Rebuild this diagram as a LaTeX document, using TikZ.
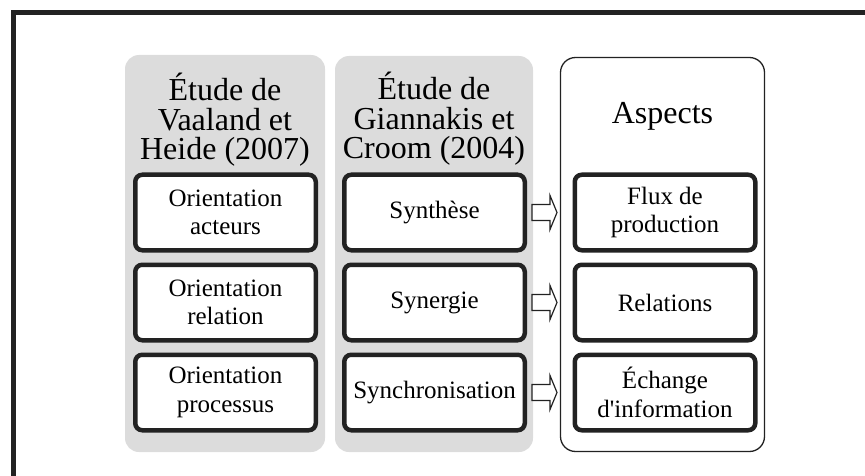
\documentclass[tikz,border=0pt]{standalone}
\usepackage{fontspec}
\setmainfont{Liberation Serif}[Ligatures=TeXOff]
\usetikzlibrary{calc}
\definecolor{panelgray}{RGB}{220,220,220}
\definecolor{ink}{RGB}{34,34,34}
\begin{document}
\begin{tikzpicture}[x=1pt,y=-1pt,
  panel/.style={fill=panelgray, draw=none, rounded corners=14pt, inner sep=0pt},
  item/.style={draw=ink, line width=4.5pt, fill=white, rounded corners=7pt,
    minimum width=180.5pt, minimum height=75.5pt, inner sep=0pt, align=center,
    font=\fontsize{25}{28.5}\selectfont},
  head/.style={align=center, inner sep=0pt, font=\fontsize{32}{29.5}\selectfont},
  flow/.style={draw=ink, line width=1.2pt, fill=white, line join=miter}
]
\useasboundingbox (0,0) rectangle (865,476);

% page frame (open towards the right and the bottom)
\draw[line width=5pt, draw=ink] (13,490) -- (13,13) -- (880,13);

% column backgrounds
\node[panel, minimum width=200pt, minimum height=397pt] (p1) at (225,253.5) {};
\node[panel, minimum width=198pt, minimum height=396pt] (p2) at (434,254) {};
\node[draw=ink, line width=1.3pt, fill=white, rounded corners=15pt,
      minimum width=204pt, minimum height=394pt, inner sep=0pt] (p3) at (662.5,254.5) {};

% column headings
\node[head] (h1) at (225,120) {Étude de\\Vaaland et\\Heide (2007)};
\node[head] (h2) at (434,119) {Étude de\\Giannakis et\\Croom (2004)};
\node[head, anchor=base] (h3) at (662.5,124) {Aspects};

% first column
\node[item] (a1) at (225.5,212.5) {Orientation\\acteurs};
\node[item] (a2) at (225.5,302.5) {Orientation\\relation};
\node[item] (a3) at (225.5,392.5) {Orientation\\processus};

% second column
\node[item] (b1) at (434.5,212.5) {Synthèse};
\node[item] (b2) at (434.5,302.5) {Synergie};
\node[item] (b3) at (434.5,392.5) {Synchronisation};

% third column
\node[item] (c1) at (665,212.5) {Flux de\\production};
\node[item] (c2) at (665,302.5) {Relations};
\node[item] (c3) at (665,392.5) {Échange\\d'information};

% block arrows from the second column towards the aspects
\foreach \s in {b1,b2,b3}{
  \draw[flow] ($(\s.east)+(5,-8)$) -- ++(18,0) -- ++(0,-9)
    -- ($(\s.east)+(30,0)$) -- ($(\s.east)+(23,17)$) -- ++(0,-9)
    -- ++(-18,0) -- cycle;
}
\end{tikzpicture}
\end{document}
